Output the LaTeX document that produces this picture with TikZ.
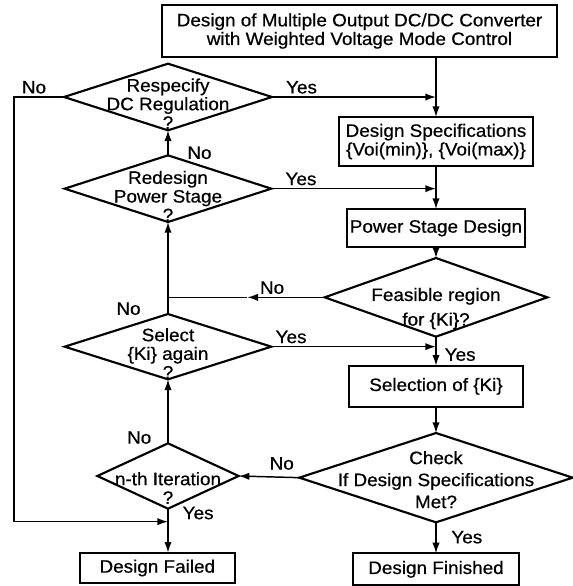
\documentclass[tikz,border=0pt]{standalone}
\usepackage{fontspec}
\setmainfont{Liberation Sans}[FakeStretch=1.05, FakeBold=0.6]
\usetikzlibrary{shapes.geometric, arrows.meta, positioning}

\begin{document}
\begin{tikzpicture}[
  x=0.75pt, y=-0.75pt,
  font=\fontsize{13.5}{14}\selectfont,
  line width=1.1pt,
  box/.style={rectangle, draw, line width=1.6pt, inner sep=1pt, outer sep=0pt, align=center},
  dec/.style={diamond, draw, line width=1.6pt, inner sep=0pt, outer sep=0pt},
  dtxt/.style={align=center, inner sep=0pt},
  lbl/.style={inner sep=2pt},
  arrow/.style={-{Latex[length=8pt,width=5.5pt]}}
]
\useasboundingbox (0,0) rectangle (572,586);

% main column
\node[box, minimum width=296pt, minimum height=39pt] (title) at (359.5,31)
  {Design of Multiple Output DC/DC Converter\\with Weighted Voltage Mode Control};
\node[box, minimum width=145.5pt, minimum height=36.75pt] (spec) at (436,141.5)
  {Design Specifications\\\{Voi(min)\}, \{Voi(max)\}};
\node[box, minimum width=133.5pt, minimum height=28.5pt, below=32.25pt of spec] (power) {Power Stage Design};
\node[dec, minimum width=167pt, minimum height=59pt, below=8.25pt of power,
  label={[dtxt, yshift=-8.5pt]center:Feasible region\\[4.5pt]for \{Ki\}?}] (feas) {};
\node[box, minimum width=131pt, minimum height=31pt, below=21.75pt of feas] (sel) {Selection of \{Ki\}};
\node[dec, minimum width=205pt, minimum height=67pt, below=19.5pt of sel,
  label={[dtxt, yshift=-1.5pt]center:Check\\[2.5pt]If Design Specifications\\[2.5pt]Met?}] (check) {};
\node[box, minimum width=125pt, minimum height=24pt, below=23.25pt of check] (fin) {Design Finished};

% left column
\node[dec, minimum width=156pt, minimum height=50pt,
  label={[dtxt, yshift=-5pt]center:Respecify\\DC Regulation\\?}] (respec) at (168,97) {};
\node[dec, minimum width=155pt, minimum height=50pt, below=18.75pt of respec,
  label={[dtxt, yshift=-5.5pt]center:Redesign\\Power Stage\\?}] (redes) {};
\node[dec, minimum width=155pt, minimum height=49pt, below=69pt of redes,
  label={[dtxt, yshift=-5pt]center:Select\\\{Ki\} again\\?}] (again) {};
\node[dec, minimum width=106pt, minimum height=49pt, below=48pt of again,
  label={[dtxt, yshift=-9pt]center:n-th Iteration\\?}] (iter) {};
\node[box, minimum width=116pt, minimum height=23pt, below=33pt of iter, xshift=-8pt] (fail) {Design Failed};

\coordinate[left=37.5pt of respec.west] (loop);
\coordinate[below=9.75pt of iter.south] (failin);
\coordinate[left=58pt of feas.west] (feasno);

% connectors
\draw[arrow] (title.south -| spec.north) -- (spec.north);
\draw[arrow] (spec) -- (power);
\draw[arrow] (power) -- (feas);
\draw[arrow] (feas) -- node[lbl, right=4pt, pos=0.62]{Yes} (sel);
\draw[arrow] (sel) -- (check);
\draw[arrow] (check) -- node[lbl, right=9pt, pos=0.48]{Yes} (fin);

\draw[arrow] (respec.east) -- node[lbl, above, pos=0.18]{Yes} (respec.east -| spec.north);
\draw[arrow] (redes.east) -- node[lbl, above, pos=0.18]{Yes} (redes.east -| spec.north);
\draw[arrow] (again.east) -- node[lbl, above, pos=0.12]{Yes} (again.east -| spec.north);
\draw[arrow] (redes) -- node[lbl, right=12pt, pos=0.1]{No} (respec);

\draw[arrow] (feas.west) -- node[lbl, above, pos=0.68]{No} (feasno);
\draw[arrow] (feasno) -| (redes.south);
\draw (again.north) -- node[lbl, left=18pt, pos=0.32]{No} (again.north |- feasno);

\draw[arrow] (check.west) -- node[lbl, above=3pt, pos=0.29]{No} (iter.east);
\draw[arrow] (iter) -- node[lbl, left=10pt, pos=0.09]{No} (again);
\draw[arrow] (iter.south) -- node[lbl, right=8.5pt, pos=0.1]{Yes} (iter.south |- fail.north);
\draw[arrow] (respec.west) -- node[lbl, above, pos=0.6]{No} (loop) |- (failin);
\end{tikzpicture}
\end{document}
